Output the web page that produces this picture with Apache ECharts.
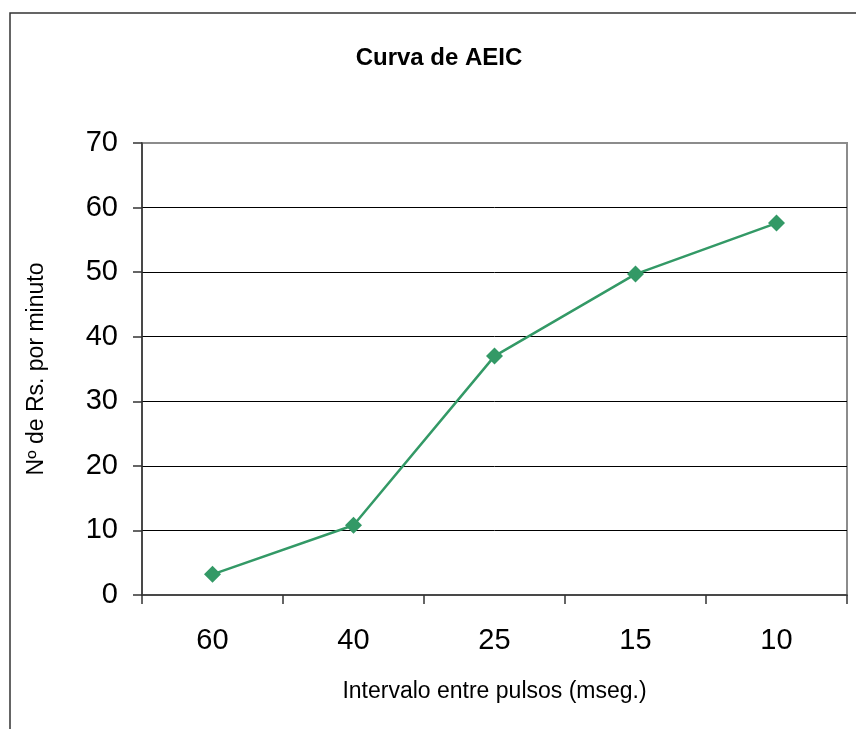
<!DOCTYPE html>
<html>
<head>
<meta charset="utf-8">
<script src="https://cdn.jsdelivr.net/npm/echarts@6/dist/echarts.min.js"></script>
<style>
  html, body { margin: 0; padding: 0; background: #fff; }
  #chart { width: 856px; height: 729px; }
</style>
</head>
<body>
<div id="chart"></div>
<script>
// Interval between pulses (ms) and responses per minute
const intervals = ['60', '40', '25', '15', '10'];
const responses = [3.2, 10.8, 37, 49.7, 57.6];
const yTicks = { min: 0, max: 70, step: 10 };

const titleText = 'Curva de AEIC';
const xName = 'Intervalo entre pulsos (mseg.)';
const yName = 'Nº de Rs. por minuto';

const font = 'Arial, "Liberation Sans", sans-serif';
const chart = echarts.init(document.getElementById('chart'), null, { renderer: 'canvas' });

chart.setOption({
  animation: false,
  backgroundColor: '#ffffff',
  title: {
    text: titleText,
    left: 434,
    top: 41,
    textAlign: 'center',
    textStyle: { fontFamily: font, fontSize: 24, fontWeight: 'bold', color: '#000' }
  },
  graphic: [{
    type: 'rect',
    shape: { x: 10, y: 13, width: 900, height: 800 },
    style: { fill: 'none', stroke: '#333', lineWidth: 1.5 },
    silent: true
  }],
  grid: {
    left: 142, top: 143, right: 9, bottom: 134,
    show: true, borderColor: '#8c8c8c', borderWidth: 2, backgroundColor: 'transparent'
  },
  xAxis: {
    type: 'category',
    data: intervals,
    boundaryGap: true,
    name: xName,
    nameLocation: 'middle',
    nameGap: 85,
    nameTextStyle: { fontFamily: font, fontSize: 23, color: '#000' },
    axisLine: { lineStyle: { color: '#333', width: 1.5 } },
    axisTick: { show: true, alignWithLabel: false, length: 9, lineStyle: { color: '#333', width: 1.5 } },
    axisLabel: { margin: 31, fontFamily: font, fontSize: 29, color: '#000' },
    splitLine: { show: false }
  },
  yAxis: {
    type: 'value',
    min: yTicks.min, max: yTicks.max, interval: yTicks.step,
    name: yName,
    nameLocation: 'middle',
    nameGap: 94,
    nameTextStyle: { fontFamily: font, fontSize: 23, color: '#000' },
    axisLine: { show: true, lineStyle: { color: '#333', width: 1.5 } },
    axisTick: { show: true, length: 9, lineStyle: { color: '#333', width: 1.5 } },
    axisLabel: { margin: 24, fontFamily: font, fontSize: 29, color: '#000' },
    splitLine: {
      show: true,
      lineStyle: { color: ['none', '#000', '#000', '#000', '#000', '#000', '#000', '#8c8c8c'], width: 1 }
    }
  },
  series: [{
    type: 'line',
    data: responses,
    symbol: 'diamond',
    symbolSize: 17,
    lineStyle: { color: '#339966', width: 2.5 },
    itemStyle: { color: '#339966' }
  }]
});
</script>
</body>
</html>
